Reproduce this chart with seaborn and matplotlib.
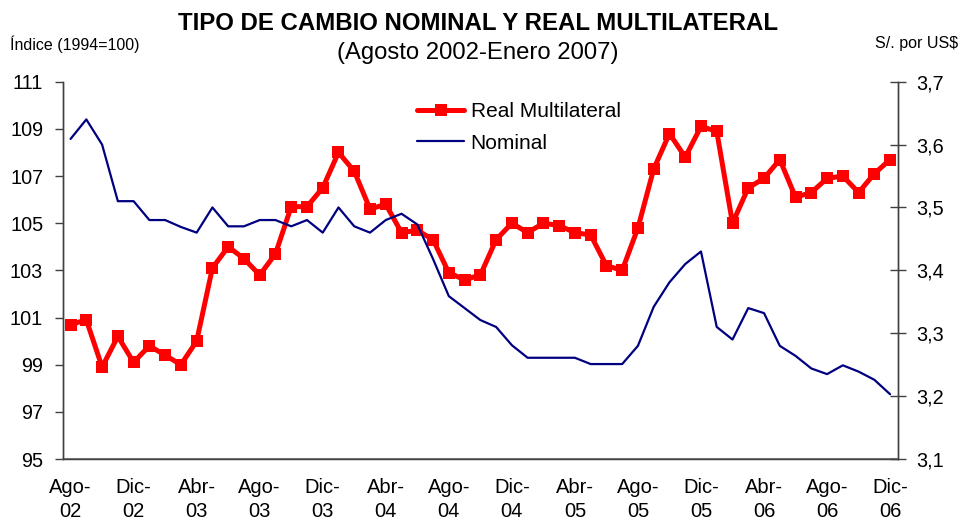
import pandas as pd
import numpy as np
import matplotlib.pyplot as plt
import seaborn as sns

# Monthly data, Aug-2002 .. Dec-2006 (53 months)
meses = pd.period_range('2002-08', periods=53, freq='M').strftime('%Y-%m')

real_multilateral = [100.7, 100.9, 98.9, 100.2, 99.1, 99.8, 99.4, 99.0, 100.0, 103.1,
                     104.0, 103.5, 102.8, 103.7, 105.7, 105.7, 106.5, 108.0, 107.2, 105.6,
                     105.8, 104.6, 104.7, 104.3, 102.9, 102.6, 102.8, 104.3, 105.0, 104.6,
                     105.0, 104.9, 104.6, 104.5, 103.2, 103.0, 104.8, 107.3, 108.8, 107.8,
                     109.1, 108.9, 105.0, 106.5, 106.9, 107.7, 106.1, 106.3, 106.9, 107.0,
                     106.3, 107.1, 107.7]

nominal = [3.609, 3.640, 3.600, 3.510, 3.510, 3.480, 3.480, 3.469, 3.460, 3.500,
           3.470, 3.470, 3.480, 3.480, 3.470, 3.480, 3.460, 3.500, 3.470, 3.460,
           3.480, 3.490, 3.473, 3.418, 3.359, 3.340, 3.321, 3.310, 3.281, 3.261,
           3.261, 3.261, 3.261, 3.251, 3.251, 3.251, 3.280, 3.342, 3.381, 3.410,
           3.430, 3.310, 3.290, 3.340, 3.332, 3.280, 3.264, 3.244, 3.235, 3.249,
           3.239, 3.226, 3.203]

tick_labels = ["Ago-\n02", "Dic-\n02", "Abr-\n03", "Ago-\n03", "Dic-\n03", "Abr-\n04", "Ago-\n04",
               "Dic-\n04", "Abr-\n05", "Ago-\n05", "Dic-\n05", "Abr-\n06", "Ago-\n06", "Dic-\n06"]

df = pd.DataFrame({'mes': meses, 'pos': np.arange(len(meses)),
                   'real': real_multilateral, 'nominal': nominal})

sns.set_style("white")
plt.rcParams['font.family'] = ['Liberation Sans', 'DejaVu Sans']
plt.rcParams['text.color'] = 'black'
plt.rcParams['xtick.labelcolor'] = 'black'
plt.rcParams['ytick.labelcolor'] = 'black'

fig = plt.figure(figsize=(9.6, 5.27), dpi=100)
ax = fig.add_axes([0.0653, 0.129, 0.8701, 0.716])
ax2 = ax.twinx()

sns.lineplot(data=df, x='pos', y='real', ax=ax, color='#ff0000', linewidth=3.6,
             marker='s', markersize=8, markeredgewidth=0, label='Real Multilateral', legend=False)
sns.lineplot(data=df, x='pos', y='nominal', ax=ax2, color='#000080', linewidth=1.6,
             label='Nominal', legend=False)

ax.set_xlim(-0.5, len(meses) - 0.5)
ax.set_ylim(95, 111)
ax.set_yticks(np.arange(95, 112, 2))
ax2.set_ylim(3.1, 3.7)
ax2.set_yticks(np.arange(3.1, 3.71, 0.1))
ax2.set_yticklabels([f"{v:.1f}".replace('.', ',') for v in np.arange(3.1, 3.71, 0.1)])

ax.set_xticks(np.arange(0, len(meses), 4))
ax.set_xticklabels(tick_labels)
for t in ax.get_xticklabels():
    t.set_linespacing(1.32)
ax.set_xticks(np.arange(-0.5, len(meses), 1), minor=True)
ax.tick_params(axis='x', which='major', length=0, labelsize=14.5, pad=14, labelcolor='black')
ax.tick_params(axis='x', which='minor', length=5, width=1, color='#404040', direction='out')
ax.tick_params(axis='y', length=6, width=1, color='#404040', direction='out', labelsize=14.3, pad=8,
               labelcolor='black')
ax2.tick_params(axis='y', length=12, width=1, color='#404040', direction='inout', labelsize=14.3, pad=7,
                labelcolor='black')
ax.set_xlabel('')
ax.set_ylabel('')
ax2.set_ylabel('')

for a in (ax, ax2):
    a.spines['top'].set_visible(False)
    for s in ('left', 'right', 'bottom'):
        a.spines[s].set_color('#404040')
        a.spines[s].set_linewidth(1)
ax.spines['bottom'].set_color('#808080')
ax.spines['bottom'].set_linewidth(1.5)

h1, l1 = ax.get_legend_handles_labels()
h2, l2 = ax2.get_legend_handles_labels()
leg = fig.legend(h1 + h2, l1 + l2, loc='upper left', bbox_to_anchor=(0.424, 0.826), frameon=False,
                 fontsize=15, handlelength=2.25, handletextpad=0.3, labelspacing=0.6,
                 borderpad=0, numpoints=1)
for t in leg.get_texts():
    t.set_color('black')

fig.text(0.498, 0.956, "TIPO DE CAMBIO NOMINAL Y REAL MULTILATERAL", ha='center', va='center',
         fontsize=17.3, fontweight='bold', color='black')
fig.text(0.498, 0.899, "(Agosto 2002-Enero 2007)", ha='center', va='center', fontsize=17.2, color='black')
fig.text(0.01, 0.916, "Índice (1994=100)", ha='left', va='center', fontsize=11.5, color='black')
fig.text(0.998, 0.918, "S/. por US$", ha='right', va='center', fontsize=11.5, color='black')

fig.savefig('out.png', dpi=100)
